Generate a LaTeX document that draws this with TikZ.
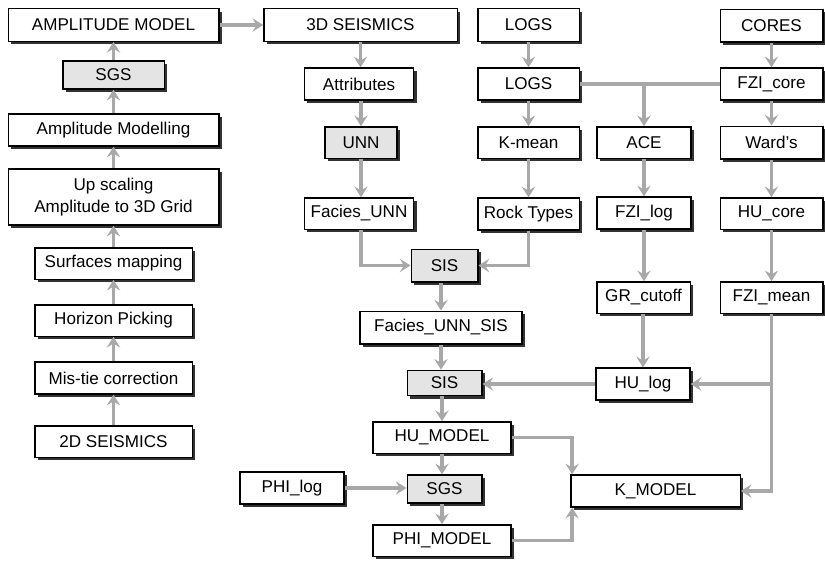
\documentclass[tikz,border=0pt]{standalone}
\usepackage{fontspec}
\setmainfont{Liberation Sans}
\usetikzlibrary{arrows.meta,shadows}

\definecolor{arrgray}{RGB}{168,168,168}
\definecolor{boxgray}{RGB}{228,228,228}
\definecolor{shadowgray}{RGB}{50,50,50}

\tikzset{every picture/.style={line width=0.75pt}}
\tikzset{
	box/.style={draw=black, line width=1pt, fill=white, inner sep=0pt, align=center,
		font=\fontsize{12.8}{17}\selectfont,
		general shadow={fill=shadowgray, shadow xshift=2.2pt, shadow yshift=-2.2pt}},
	gbox/.style={box, fill=boxgray},
	arr/.style={draw=arrgray, line width=2.8pt, -{Stealth[length=8pt,width=10pt,inset=3pt]}},
	link/.style={draw=arrgray, line width=2.8pt}
}

\begin{document}
\begin{tikzpicture}[x=0.75pt,y=0.75pt,yscale=-1,xscale=1]
	\useasboundingbox (0,0) rectangle (825,561);

	% Left column
	\node[box, minimum width=158pt, minimum height=24.5pt] (ampmodel) at (113.5,25) {AMPLITUDE MODEL};
	\node[gbox, minimum width=76pt, minimum height=21pt] (sgsA) at (113.5,75) {SGS};
	\node[box, minimum width=158pt, minimum height=24pt] (ampmod) at (113.5,130) {Amplitude Modelling};
	\node[box, minimum width=158pt, minimum height=42pt] (upscal) at (113.5,197) {Up scaling\\Amplitude to 3D Grid};
	\node[box, minimum width=118pt, minimum height=23.5pt] (surf) at (113.5,263.5) {Surfaces mapping};
	\node[box, minimum width=118pt, minimum height=23.5pt] (horiz) at (113.5,320.5) {Horizon Picking};
	\node[box, minimum width=118pt, minimum height=24pt] (mistie) at (113.5,378) {Mis-tie correction};
	\node[box, minimum width=118pt, minimum height=23.5pt] (seisB) at (113.5,441.5) {2D SEISMICS};

	% Seismic column
	\node[box, minimum width=145pt, minimum height=24.5pt] (seisC) at (360.5,25) {3D SEISMICS};
	\node[box, minimum width=82pt, minimum height=24pt] (attr) at (359,84) {Attributes};
	\node[gbox, minimum width=54pt, minimum height=23.5pt] (unn) at (361,142.5) {UNN};
	\node[box, minimum width=82pt, minimum height=23.5pt] (faciesunn) at (359,213.5) {Facies\_UNN};

	% Logs column
	\node[box, minimum width=76pt, minimum height=24.5pt] (logsA) at (528.5,25) {LOGS};
	\node[box, minimum width=76pt, minimum height=24pt] (logsB) at (528.5,84) {LOGS};
	\node[box, minimum width=76pt, minimum height=23.5pt] (kmean) at (528.5,142.5) {K-mean};
	\node[box, minimum width=76pt, minimum height=24pt] (rock) at (528.5,214) {Rock Types};

	% Central column
	\node[gbox, minimum width=50pt, minimum height=24.5pt] (sisA) at (444.5,265.5) {SIS};
	\node[box, minimum width=121.5pt, minimum height=24.5pt] (fus) at (441,327.5) {Facies\_UNN\_SIS};
	\node[gbox, minimum width=56pt, minimum height=19pt] (sisB) at (444.5,383) {SIS};
	\node[box, minimum width=103.5pt, minimum height=23.5pt] (humodel) at (442,437.5) {HU\_MODEL};
	\node[gbox, minimum width=56pt, minimum height=21pt] (sgsB) at (444.5,489) {SGS};
	\node[box, minimum width=103.5pt, minimum height=23.5pt] (phimodel) at (442,540.5) {PHI\_MODEL};
	\node[box, minimum width=78pt, minimum height=24pt] (philog) at (292,488) {PHI\_log};

	% ACE column
	\node[box, minimum width=70.5pt, minimum height=23.5pt] (ace) at (644,142.5) {ACE};
	\node[box, minimum width=70.5pt, minimum height=24pt] (fzilog) at (644,213) {FZI\_log};
	\node[box, minimum width=70pt, minimum height=23.5pt] (grcut) at (643.5,297.5) {GR\_cutoff};
	\node[box, minimum width=70.5pt, minimum height=24pt] (hulog) at (643,384) {HU\_log};
	\node[box, minimum width=127pt, minimum height=24pt] (kmodel) at (655.5,491) {K\_MODEL};

	% Cores column
	\node[box, minimum width=77pt, minimum height=24.5pt] (cores) at (771.5,25.5) {CORES};
	\node[box, minimum width=77pt, minimum height=24pt] (fzicore) at (771.5,84) {FZI\_core};
	\node[box, minimum width=77pt, minimum height=24.5pt] (wards) at (771.5,142.5) {Ward’s};
	\node[box, minimum width=77pt, minimum height=23.5pt] (hucore) at (771.5,213.5) {HU\_core};
	\node[box, minimum width=77pt, minimum height=23.5pt] (fzimean) at (771.5,297.5) {FZI\_mean};

	% Amplitude chain
	\draw[arr] (seisB.north) -- (mistie.south);
	\draw[arr] (mistie.north) -- (horiz.south);
	\draw[arr] (horiz.north) -- (surf.south);
	\draw[arr] (surf.north) -- (upscal.south);
	\draw[arr] (upscal.north) -- (ampmod.south);
	\draw[arr] (ampmod.north) -- (sgsA.south);
	\draw[arr] (sgsA.north) -- (ampmodel.south);
	\draw[arr] (ampmodel.east) -- (seisC.west);

	% Seismic facies
	\draw[arr] (seisC.south) -- (seisC.south |- attr.north);
	\draw[arr] (attr.south -| unn) -- (unn.north);
	\draw[arr] (unn.south) -- (unn.south |- faciesunn.north);
	\draw[arr] (faciesunn.south -| unn) |- (sisA.west);

	% Logs
	\draw[arr] (logsA.south) -- (logsB.north);
	\draw[arr] (logsB.south) -- (kmean.north);
	\draw[arr] (kmean.south) -- (rock.north);
	\draw[arr] (rock.south) |- (sisA.east);
	\draw[link] (logsB.east) -- (fzicore.west);
	\draw[arr] (logsB.east -| ace) -- (ace.north);

	% Cores
	\draw[arr] (cores.south) -- (fzicore.north);
	\draw[arr] (fzicore.south) -- (wards.north);
	\draw[arr] (wards.south) -- (hucore.north);
	\draw[arr] (hucore.south) -- (fzimean.north);
	\draw[arr] (fzimean.south) |- (kmodel.east);
	\draw[arr] (fzimean.south |- hulog.east) -- (hulog.east);

	% ACE
	\draw[arr] (ace.south) -- (fzilog.north);
	\draw[arr] (fzilog.south) -- (fzilog.south |- grcut.north);
	\draw[arr] (grcut.south -| hulog) -- (hulog.north);
	\draw[arr] (hulog.west) -- (hulog.west -| sisB.east);

	% Central chain
	\draw[arr] (sisA.south -| fus) -- (fus.north);
	\draw[arr] (fus.south) -- (fus.south |- sisB.north);
	\draw[arr] (sisB.south -| humodel) -- (humodel.north);
	\draw[arr] (humodel.south) -- (humodel.south |- sgsB.north);
	\draw[arr] (sgsB.south -| phimodel) -- (phimodel.north);
	\draw[arr] (philog.east) -- (philog.east -| sgsB.west);
	\draw[arr] (humodel.east) -| ([xshift=1.5pt]kmodel.north west);
	\draw[arr] (phimodel.east) -| ([xshift=1.5pt]kmodel.south west);

\end{tikzpicture}
\end{document}
